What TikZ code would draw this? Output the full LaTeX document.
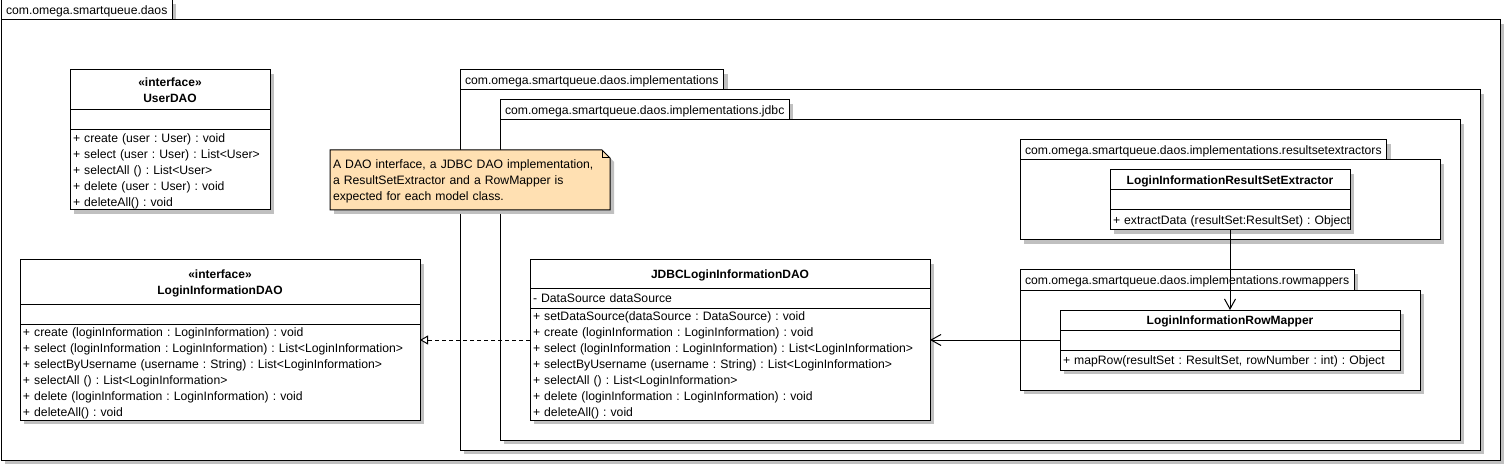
\documentclass[tikz,border=0pt]{standalone}
\usepackage{fontspec}
\setmainfont{Liberation Sans}
\usetikzlibrary{positioning,shadows,arrows.meta}

\definecolor{notefill}{RGB}{255,224,178}
\definecolor{shadowgray}{RGB}{192,192,192}
\newcommand{\umlfont}{\fontsize{12.2}{16}\selectfont}
\newcommand{\umlboldfont}{\fontsize{12}{16}\selectfont\bfseries}
\newcommand{\umlstrut}{\rule[-3.3pt]{0pt}{16pt}}
\frenchspacing

\begin{document}
\begin{tikzpicture}[
    x=1pt, y=-1pt,
    every node/.style={outer sep=0pt},
    umlshadow/.style={drop shadow={shadow xshift=4pt, shadow yshift=-4pt, fill=shadowgray, opacity=1}},
    umlpart/.style={draw=black, line width=1pt, fill=white, umlshadow, inner xsep=3pt, inner ysep=0pt, font=\umlfont, execute at begin node=\umlstrut, execute at end node=\umlstrut},
    pkgtab/.style={umlpart, anchor=south west, minimum height=20pt, inner xsep=5pt},
    pkgbody/.style={draw=black, line width=1pt, fill=white, umlshadow, anchor=north west, inner sep=0pt},
    clsname/.style={umlpart, align=center, font=\umlboldfont},
    clsbody/.style={umlpart, align=left},
    notetext/.style={anchor=north west, align=left, inner xsep=3pt, inner ysep=0pt, font=\umlfont, execute at begin node=\umlstrut, execute at end node=\umlstrut},
    assoc/.style={line width=1pt, -{Straight Barb[length=10pt, width=11pt]}},
    realize/.style={line width=1pt, dash pattern=on 4pt off 3pt, -{Triangle[length=8pt, width=9pt, fill=white]}}
]
\useasboundingbox (0,0) rectangle (1505,465);

% Paquetage principal daos
\node[pkgtab] (daostab) at (1,20) {com.omega.smartqueue.daos};
\node[pkgbody, minimum width=1499pt, minimum height=440pt] (daos) at (1,20) {};

% Interface UserDAO
\node[clsname, text width=194pt, minimum height=40pt, anchor=north west] (userdao) at (70,70) {«interface»\\UserDAO};
\node[clsbody, text width=194pt, minimum height=20pt, below=0pt of userdao] (userattr) {};
\node[clsbody, text width=194pt, minimum height=80pt, below=0pt of userattr] (userops) {
    + create (user : User) : void\\
    + select (user : User) : List<User>\\
    + selectAll () : List<User>\\
    + delete (user : User) : void\\
    + deleteAll() : void
};

% Interface LoginInformationDAO
\node[clsname, text width=394pt, minimum height=44pt, anchor=north west] (lidao) at (20,260) {«interface»\\LoginInformationDAO};
\node[clsbody, text width=394pt, minimum height=20pt, below=0pt of lidao] (lidattr) {};
\node[clsbody, text width=394pt, minimum height=96pt, below=0pt of lidattr] (lidops) {
    + create (loginInformation : LoginInformation) : void\\
    + select (loginInformation : LoginInformation) : List<LoginInformation>\\
    + selectByUsername (username : String) : List<LoginInformation>\\
    + selectAll () : List<LoginInformation>\\
    + delete (loginInformation : LoginInformation) : void\\
    + deleteAll() : void
};

% Paquetages implementations et jdbc
\node[pkgtab] (impltab) at (460,90) {com.omega.smartqueue.daos.implementations};
\node[pkgbody, minimum width=1020pt, minimum height=360pt] (impl) at (460,90) {};
\node[pkgtab] (jdbctab) at (500,120) {com.omega.smartqueue.daos.implementations.jdbc};
\node[pkgbody, minimum width=960pt, minimum height=320pt] (jdbc) at (500,120) {};

% Classe JDBCLoginInformationDAO
\node[clsname, text width=394pt, minimum height=28pt, anchor=north west] (jdbcdao) at (530,260) {JDBCLoginInformationDAO};
\node[clsbody, text width=394pt, minimum height=20pt, below=0pt of jdbcdao] (jdbcattr) {- DataSource dataSource};
\node[clsbody, text width=394pt, minimum height=112pt, below=0pt of jdbcattr] (jdbcops) {
    + setDataSource(dataSource : DataSource) : void\\
    + create (loginInformation : LoginInformation) : void\\
    + select (loginInformation : LoginInformation) : List<LoginInformation>\\
    + selectByUsername (username : String) : List<LoginInformation>\\
    + selectAll () : List<LoginInformation>\\
    + delete (loginInformation : LoginInformation) : void\\
    + deleteAll() : void
};

% Paquetage resultsetextractors
\node[pkgtab] (rsetab) at (1020,160) {com.omega.smartqueue.daos.implementations.resultsetextractors};
\node[pkgbody, minimum width=420pt, minimum height=80pt] (rse) at (1020,160) {};
\node[clsname, text width=234pt, minimum height=20pt, anchor=north west] (extractor) at (1110,170) {LoginInformationResultSetExtractor};
\node[clsbody, text width=234pt, minimum height=20pt, below=0pt of extractor] (exattr) {};
\node[clsbody, text width=234pt, minimum height=20pt, below=0pt of exattr] (exops) {\mbox{+ extractData (resultSet:ResultSet) : Object}};

% Paquetage rowmappers
\node[pkgtab] (rowtab) at (1020,290) {com.omega.smartqueue.daos.implementations.rowmappers};
\node[pkgbody, minimum width=400pt, minimum height=100pt] (rowpkg) at (1020,290) {};
\node[clsname, text width=334pt, minimum height=20pt, anchor=north west] (rowmapper) at (1060,310) {LoginInformationRowMapper};
\node[clsbody, text width=334pt, minimum height=20pt, below=0pt of rowmapper] (rmattr) {};
\node[clsbody, text width=334pt, minimum height=20pt, below=0pt of rmattr] (rmops) {+ mapRow(resultSet : ResultSet, rowNumber : int) : Object};

% Note
\draw[line width=1pt, fill=notefill, umlshadow] (330,150) -- (602,150) -- (610,158) -- (610,210) -- (330,210) -- cycle;
\draw[line width=1pt] (602,150) -- (602,158) -- (610,158);
\node[notetext, text width=274pt, minimum height=60pt] (note) at (330,150) {
    A DAO interface, a JDBC DAO implementation,\\
    a ResultSetExtractor and a RowMapper is\\
    expected for each model class.
};

% Relations
\draw[realize] (jdbcops.west |- rmattr.west) -- (lidops.east |- rmattr.west);
\draw[assoc] (rmattr.west) -- (rmattr.west -| jdbcops.east);
\draw[assoc] (exops.south) -- (rowmapper.north);

\end{tikzpicture}
\end{document}
